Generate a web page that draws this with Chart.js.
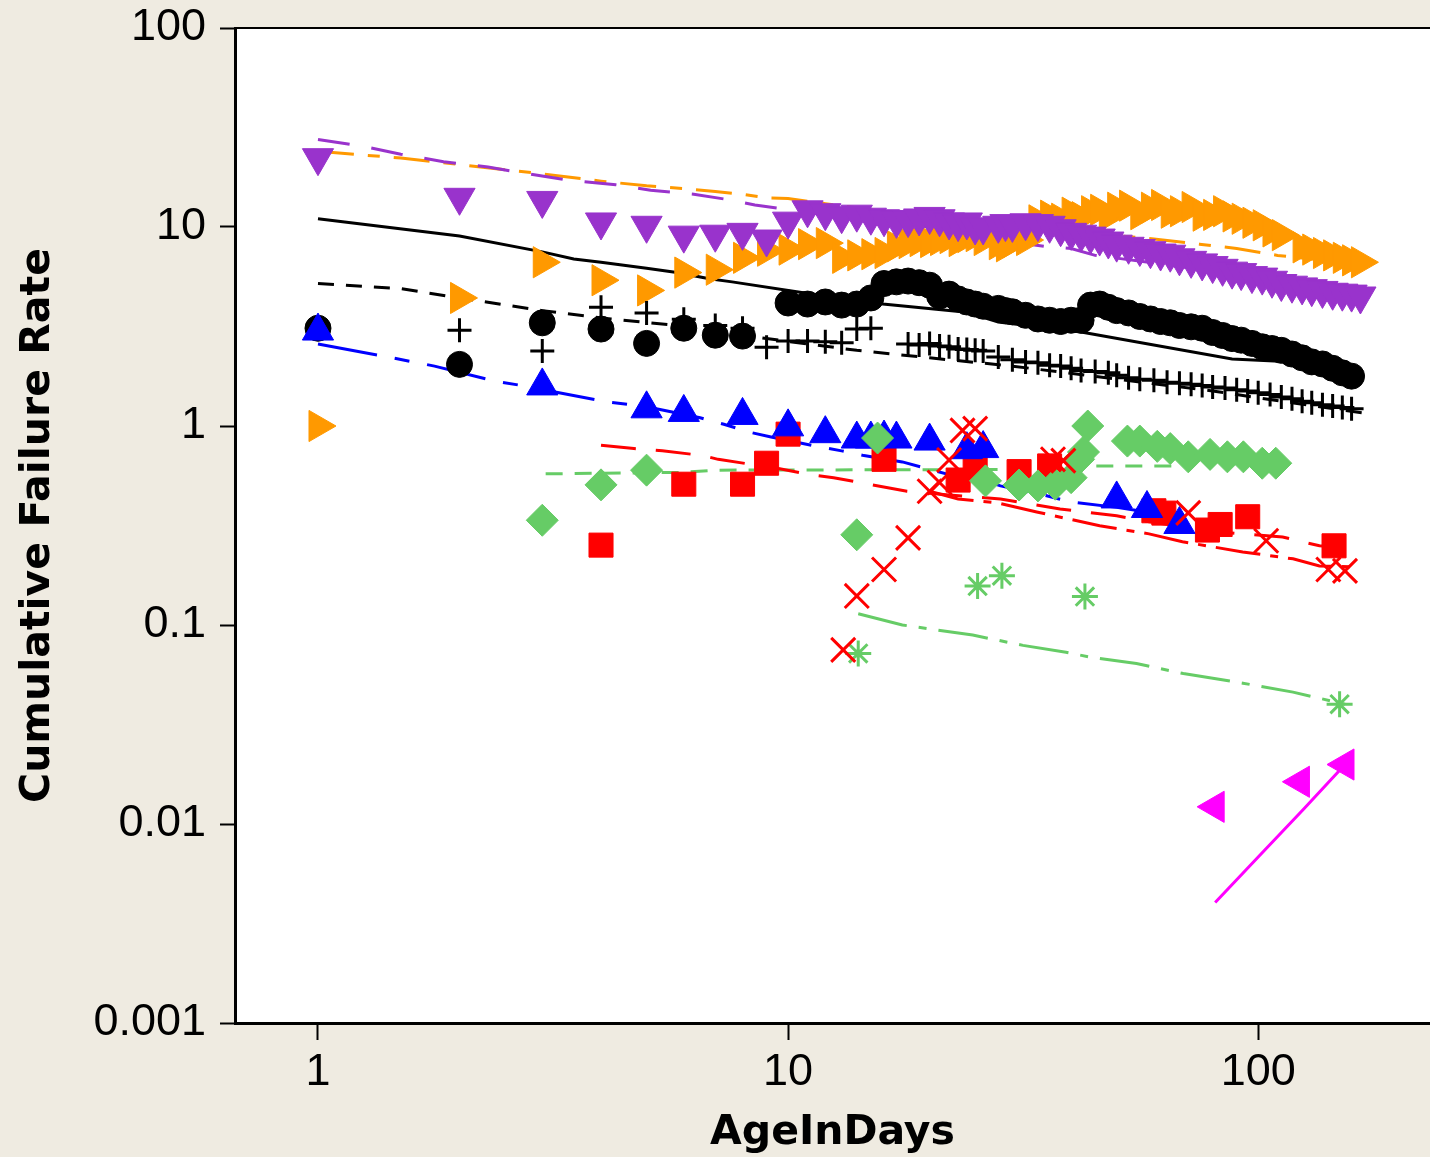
<!DOCTYPE html>
<html>
<head>
<meta charset="utf-8">
<title>Cumulative Failure Rate</title>
<script src="https://cdn.jsdelivr.net/npm/chart.js@4.4.1/dist/chart.umd.min.js"></script>
<style>
  html, body { margin: 0; padding: 0; background: #efebe1; }
  #wrap { width: 1430px; height: 1157px; overflow: hidden; }
  canvas { display: block; }
</style>
</head>
<body>
<div id="wrap"><canvas id="failure-chart" width="1450" height="1157"></canvas></div>
<script>
// axis ticks
const xTickValues = [1, 10, 100];
const xTickLabels = ['1', '10', '100'];
const yTickValues = [0.001, 0.01, 0.1, 1, 10, 100];
const yTickLabels = ['0.001', '0.01', '0.1', '1', '10', '100'];

// observed cumulative failure rate per group
const purpleDays = [1,2,3,4,5,6,7,8,9,10,11,12,13,14,15,16,17,18,19,20,21,22,23,24,25,26,28,29,30,32,34,36,38,40,42,44,46,48,50,53,56,59,62,65,68,72,76,80,84,88,92,97,102,107,112,118,124,130,137,144,151,158,165];
const purpleRate = [22.3,14.1,13.6,10.6,10.2,9.1,9.2,9.4,8.7,10.7,12.2,11.8,11.4,11.6,11.2,11.0,10.8,10.9,11.1,11.3,11.0,10.6,10.4,10.6,10.0,10.0,10.2,10.4,10.3,10.5,10.4,10.2,9.8,9.4,9.2,9.0,8.8,8.5,8.2,8.0,7.8,7.6,7.4,7.3,7.0,6.8,6.6,6.4,6.2,6.0,5.9,5.7,5.6,5.4,5.2,5.1,5.0,4.9,4.8,4.7,4.65,4.6,4.5];

const orangeDays = [1,2,3,4,5,6,7,8,9,10,11,12,13,14,15,16,17,18,19,20,21,22,23,24,25,26,28,29,30,32,34,36,38,40,42,44,46,48,50,53,56,59,62,65,68,72,76,80,84,88,92,97,102,107,112,124,130,137,144,151,158,165];
const orangeRate = [1.0,4.4,6.65,5.4,4.8,5.9,6.1,7.0,7.6,7.7,8.2,8.3,7.0,7.2,7.3,7.4,8.0,8.3,8.5,8.4,8.6,8.8,8.5,8.9,9.0,8.6,8.2,8.0,8.4,8.6,10.8,11.4,11.0,11.8,11.2,12.0,12.2,11.4,12.5,12.8,11.6,12.5,12.9,11.8,12.0,12.6,11.4,11.5,12.0,11.3,11.0,10.5,10.2,9.5,9.1,7.9,7.7,7.4,7.2,7.0,6.8,6.65];

const circleDays = [1,2,3,4,5,6,7,8,10,11,12,13,14,15,16,17,18,19,20,21,22,23,24,25,26,28,29,30,32,34,36,38,40,42,44,46,48,50,53,56,59,62,65,68,72,76,80,84,88,92,97,102,107,112,118,124,130,137,144,151,158];
const circleRate = [3.1,2.04,3.3,3.07,2.6,3.1,2.86,2.83,4.15,4.1,4.2,4.05,4.1,4.4,5.2,5.3,5.35,5.25,5.1,4.5,4.6,4.35,4.2,4.1,4.0,3.9,3.8,3.75,3.6,3.45,3.4,3.35,3.4,3.4,4.05,4.1,3.95,3.8,3.7,3.55,3.45,3.35,3.3,3.2,3.15,3.1,2.95,2.85,2.75,2.7,2.6,2.5,2.45,2.4,2.3,2.2,2.1,2.05,1.95,1.85,1.78];

const plusDays = [1,2,3,4,5,6,7,8,9,10,11,12,13,14,15,18,19,20,21,22,23,24,25,26,28,30,32,34,36,38,40,42,45,48,50,53,56,60,64,68,72,76,80,85,90,95,100,106,112,118,124,130,137,144,151,158];
const plusRate = [3.07,3.03,2.38,3.95,3.7,3.44,3.2,3.1,2.49,2.67,2.67,2.65,2.62,3.07,3.1,2.58,2.55,2.6,2.52,2.5,2.44,2.42,2.4,2.38,2.22,2.15,2.1,2.08,2.02,2.0,1.95,1.9,1.88,1.85,1.8,1.75,1.72,1.7,1.66,1.64,1.62,1.6,1.57,1.55,1.52,1.5,1.47,1.44,1.4,1.37,1.33,1.31,1.28,1.26,1.24,1.22];

const blueDays = [1,3,5,6,8,10,12,14,15,16,17,20,24,26,50,58,68];
const blueRate = [3.0,1.59,1.22,1.17,1.13,0.99,0.915,0.86,0.86,0.87,0.86,0.84,0.76,0.77,0.43,0.385,0.32];

const squareDays = [4,6,8,9,10,16,23,25,31,36,60,63,78,83,95,145];
const squareRate = [0.252,0.51,0.51,0.65,0.91,0.68,0.535,0.61,0.59,0.63,0.375,0.365,0.30,0.32,0.35,0.25];

const crossDays = [13.1,14,16,18,20,21,22,23.5,25,36.6,38.5,71,104,141,153];
const crossRate = [0.075,0.14,0.19,0.274,0.47,0.52,0.675,0.95,0.97,0.68,0.67,0.366,0.265,0.19,0.187];

const diamondDays = [3,4,5,14,15.5,26.3,31,34,37,40,41.5,42.5,43.4,52.7,56,61,65,71,79,86,93,102,109];
const diamondRate = [0.336,0.506,0.60,0.284,0.87,0.53,0.505,0.50,0.51,0.55,0.68,0.74,1.0,0.84,0.84,0.79,0.77,0.70,0.72,0.70,0.70,0.65,0.65];

const starDays = [14.1,25.3,28.5,42.8,149];
const starRate = [0.072,0.157,0.177,0.139,0.040];

const magentaDays = [81,123,153];
const magentaRate = [0.0122,0.0163,0.0199];

// fitted curves
const purpleFitDays = [1,1.25,1.5,1.85,2.3,2.8,3.4,4.3,5.1,6.3,7.5,8.5,9.6,12,15,20,25,30,35,40,45,60,80,100,130,165];
const purpleFitRate = [27.5,25.4,23.2,21.3,20.0,18.5,17.2,16.3,15.3,14.6,13.7,12.9,12.4,11.5,10.8,10.0,9.2,8.4,8.0,7.8,7.2,6.6,6.0,5.5,5.0,4.6];

const orangeFitDays = [1,1.5,2,3,4,5,6,7,8,9,10,12,15,20,30,40,60,75,90,110,130,165];
const orangeFitRate = [24.0,22.2,20.6,18.5,17.0,16.1,15.6,15.1,14.6,14.0,13.9,13.1,12.2,11.3,10.2,9.5,8.7,8.2,7.8,7.2,6.9,6.5];

const circleFitDays = [1,2,3,3.5,4,5,5.8,6.8,7.6,10.6,15.9,24,28,42,88,120,160];
const circleFitRate = [11.0,9.0,7.5,6.9,6.65,6.2,5.9,5.5,5.3,4.7,4.1,3.73,3.33,2.97,2.17,2.1,1.8];

const plusFitDays = [1,1.5,2,3,4.2,5.8,9,14,20,30,50,80,120,173];
const plusFitRate = [5.2,4.9,4.4,3.8,3.45,3.2,2.75,2.4,2.2,2.0,1.72,1.5,1.3,1.15];

const blueFitDays = [1,1.37,1.77,2.38,2.7,4.14,5,6.5,7.3,8.3,9.2,11.5,13,14.5,17.5,22,25,28.3,35,40,50,58,70];
const blueFitRate = [2.58,2.25,2.0,1.68,1.6,1.32,1.25,1.1,1.02,0.93,0.88,0.79,0.75,0.71,0.66,0.57,0.55,0.50,0.45,0.415,0.39,0.37,0.33];

const squareFitDays = [4,4.7,5.4,6.6,7.1,8.4,9.6,11.1,12.5,17.9,22,28.3,37.9,50,58.6,81.5,112.7,135,153];
const squareFitRate = [0.80,0.77,0.75,0.71,0.68,0.64,0.61,0.57,0.55,0.47,0.45,0.43,0.383,0.354,0.33,0.294,0.277,0.25,0.245];

const crossFitDays = [20,23,28,33.8,46,58.6,69,92.7,118.6,135,160];
const crossFitRate = [0.47,0.43,0.41,0.37,0.315,0.287,0.262,0.233,0.215,0.198,0.196];

const diamondFitDays = [3.05,6,7,40,45,68];
const diamondFitRate = [0.575,0.585,0.6,0.605,0.63,0.63];

const starFitDays = [14.1,17.5,24.7,31.6,39,43.8,55.1,69.3,92.8,118.6,153];
const starFitRate = [0.114,0.100,0.089,0.079,0.073,0.069,0.064,0.057,0.051,0.046,0.040];

const magentaFitDays = [81,100,125,153];
const magentaFitRate = [0.00403,0.00683,0.0119,0.0199];

const PURPLE = '#9933cc';
const ORANGE = '#ff9900';
const BLUE = '#0000ff';
const RED = '#ff0000';
const GREEN = '#66cc66';
const MAGENTA = '#ff00ff';
const BLACK = '#000000';

function toPoints(days, rates) {
  return days.map((d, i) => ({ x: d, y: rates[i] }));
}

function markers(days, rates, color, style, radius, rotation, width) {
  return {
    data: toPoints(days, rates),
    showLine: false,
    pointStyle: style,
    pointRadius: radius,
    pointRotation: rotation || 0,
    pointBackgroundColor: color,
    pointBorderColor: color,
    pointBorderWidth: width || 1
  };
}

function fitLine(days, rates, color, dash) {
  return {
    data: toPoints(days, rates),
    showLine: true,
    borderColor: color,
    borderWidth: 3,
    borderDash: dash,
    pointRadius: 0,
    tension: 0
  };
}

// white plot area plus the top frame line
const plotFrame = {
  id: 'plotFrame',
  beforeDraw(chart) {
    const { ctx, chartArea: a } = chart;
    ctx.save();
    ctx.fillStyle = '#ffffff';
    ctx.fillRect(a.left, a.top, a.right - a.left, a.bottom - a.top);
    ctx.restore();
  },
  afterDraw(chart) {
    const { ctx, chartArea: a } = chart;
    ctx.save();
    ctx.strokeStyle = '#000';
    ctx.lineWidth = 2;
    ctx.beginPath();
    ctx.moveTo(a.left, a.top);
    ctx.lineTo(a.right + 20, a.top);
    ctx.stroke();
    ctx.restore();
  }
};

document.addEventListener('DOMContentLoaded', function() {
  const ctx = document.getElementById('failure-chart').getContext('2d');

  new Chart(ctx, {
    type: 'scatter',
    data: {
      datasets: [
        markers(crossDays, crossRate, RED, 'crossRot', 17, 0, 3),
        markers(starDays, starRate, GREEN, 'star', 13, 0, 3),
        markers(magentaDays, magentaRate, MAGENTA, 'triangle', 18, 270),
        markers(diamondDays, diamondRate, GREEN, 'rectRot', 16),
        markers(blueDays, blueRate, BLUE, 'triangle', 18, 0),
        markers(squareDays, squareRate, RED, 'rect', 17),
        markers(circleDays, circleRate, BLACK, 'circle', 13),
        markers(plusDays, plusRate, BLACK, 'cross', 12, 0, 3),
        markers(purpleDays, purpleRate, PURPLE, 'triangle', 18, 180),
        markers(orangeDays, orangeRate, ORANGE, 'triangle', 18, 90),
        fitLine(purpleFitDays, purpleFitRate, PURPLE, [32, 22]),
        fitLine(orangeFitDays, orangeFitRate, ORANGE, [36, 14, 12, 14]),
        fitLine(circleFitDays, circleFitRate, BLACK, []),
        fitLine(plusFitDays, plusFitRate, BLACK, [16, 12]),
        fitLine(blueFitDays, blueFitRate, BLUE, [60, 18, 15, 18]),
        fitLine(squareFitDays, squareFitRate, RED, [35, 20]),
        fitLine(crossFitDays, crossFitRate, RED, [45, 10, 8, 10]),
        fitLine(diamondFitDays, diamondFitRate, GREEN, [17, 12]),
        fitLine(starFitDays, starFitRate, GREEN, [50, 12, 8, 12]),
        fitLine(magentaFitDays, magentaFitRate, MAGENTA, [])
      ]
    },
    options: {
      responsive: false,
      animation: false,
      layout: {
        padding: { top: 28, right: 0, bottom: 0, left: 0 }
      },
      plugins: {
        legend: { display: false },
        tooltip: { enabled: false }
      },
      scales: {
        x: {
          type: 'logarithmic',
          min: 0.666,
          max: 232,
          afterFit: function(scale) { scale.height = 134; },
          afterBuildTicks: function(scale) {
            scale.ticks = xTickValues.map(v => ({ value: v }));
          },
          border: { display: true, color: '#000', width: 3 },
          grid: {
            drawOnChartArea: false,
            drawTicks: true,
            tickLength: 17,
            tickWidth: 2,
            tickColor: '#000',
            color: '#000'
          },
          ticks: {
            color: '#000',
            autoSkip: false,
            maxRotation: 0,
            padding: 6,
            font: { family: 'Liberation Sans', size: 45 },
            callback: function(value, index) { return xTickLabels[index]; }
          },
          title: {
            display: true,
            text: 'AgeInDays',
            color: '#000',
            font: { family: 'DejaVu Sans', size: 41, weight: 'bold', lineHeight: 1 },
            padding: { top: 0, bottom: 3 }
          }
        },
        y: {
          type: 'logarithmic',
          min: 0.001,
          max: 100,
          afterFit: function(scale) { scale.width = 235; },
          afterBuildTicks: function(scale) {
            scale.ticks = yTickValues.map(v => ({ value: v }));
          },
          border: { display: true, color: '#000', width: 3 },
          grid: {
            drawOnChartArea: false,
            drawTicks: true,
            tickLength: 15,
            tickWidth: 2,
            tickColor: '#000',
            color: '#000'
          },
          ticks: {
            color: '#000',
            autoSkip: false,
            padding: 14,
            font: { family: 'Liberation Sans', size: 45, lineHeight: 0.6 },
            callback: function(value, index) { return yTickLabels[index]; }
          },
          title: {
            display: true,
            text: 'Cumulative Failure Rate',
            color: '#000',
            font: { family: 'DejaVu Sans', size: 41, weight: 'bold', lineHeight: 1.2 },
            padding: { top: 14, bottom: 0 }
          }
        }
      }
    },
    plugins: [plotFrame]
  });
});
</script>
</body>
</html>
